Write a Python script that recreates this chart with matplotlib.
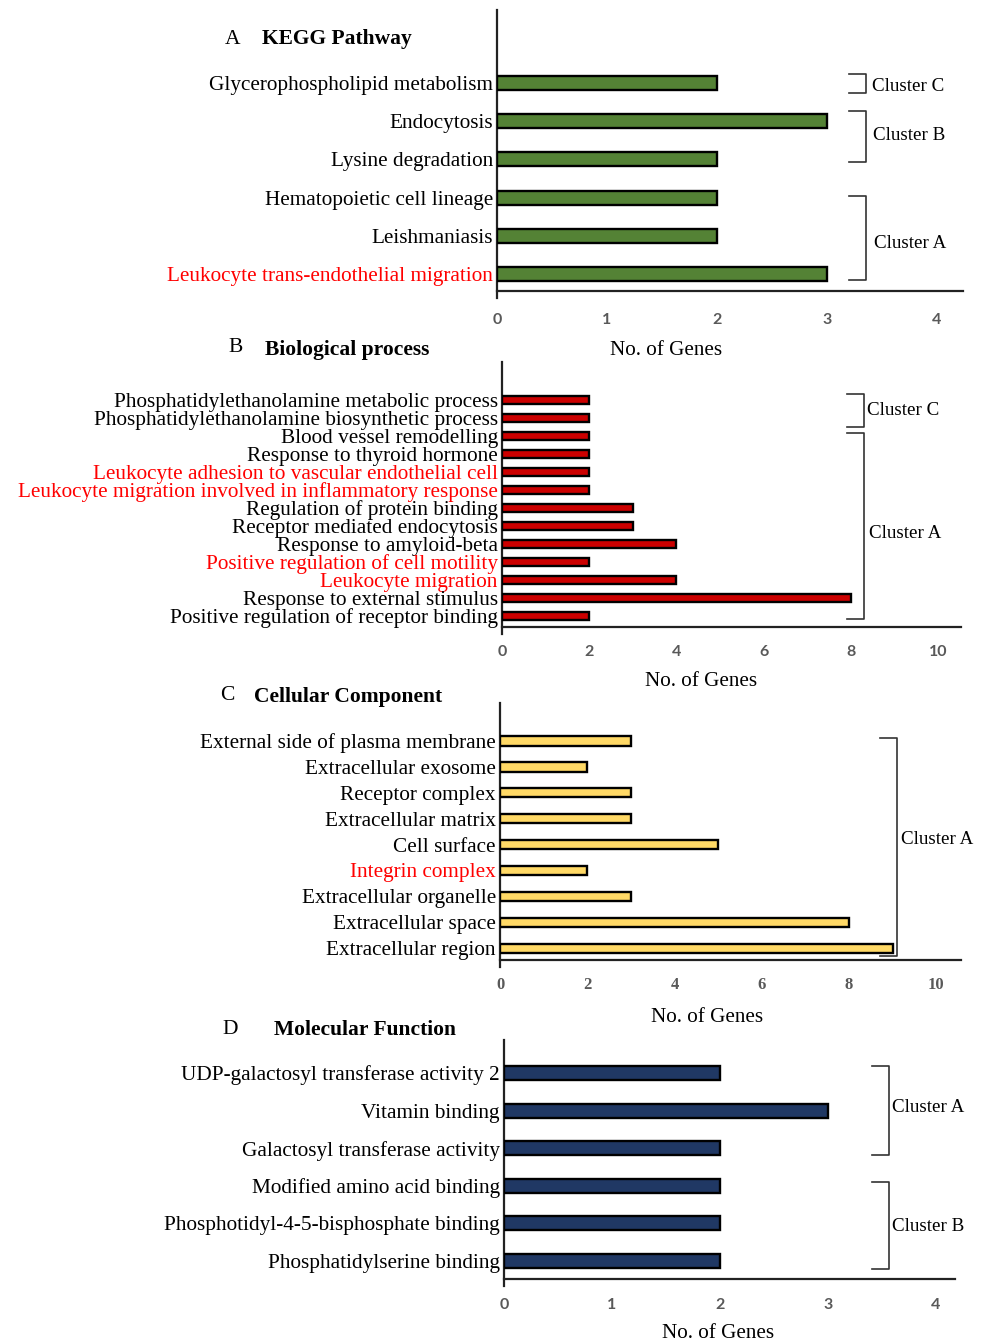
import numpy as np
import matplotlib
matplotlib.use('Agg')
from matplotlib import pyplot as plt

W, H = 984, 1342

# A: KEGG pathway
kegg_terms = ["Glycerophospholipid metabolism", "Endocytosis", "Lysine degradation",
              "Hematopoietic cell lineage", "Leishmaniasis",
              "Leukocyte trans-endothelial migration"]
kegg_genes = [2, 3, 2, 2, 2, 3]
kegg_red = ["Leukocyte trans-endothelial migration"]

# B: biological process
bp_terms = ["Phosphatidylethanolamine metabolic process",
            "Phosphatidylethanolamine biosynthetic process",
            "Blood vessel remodelling", "Response to thyroid hormone",
            "Leukocyte adhesion to vascular endothelial cell",
            "Leukocyte migration involved in inflammatory response",
            "Regulation of protein binding", "Receptor mediated endocytosis",
            "Response to amyloid-beta", "Positive regulation of cell motility",
            "Leukocyte migration", "Response to external stimulus",
            "Positive regulation of receptor binding"]
bp_genes = [2, 2, 2, 2, 2, 2, 3, 3, 4, 2, 4, 8, 2]
bp_red = ["Leukocyte adhesion to vascular endothelial cell",
          "Leukocyte migration involved in inflammatory response",
          "Positive regulation of cell motility", "Leukocyte migration"]

# C: cellular component
cc_terms = ["External side of plasma membrane", "Extracellular exosome",
            "Receptor complex", "Extracellular matrix", "Cell surface",
            "Integrin complex", "Extracellular organelle", "Extracellular space",
            "Extracellular region"]
cc_genes = [3, 2, 3, 3, 5, 2, 3, 8, 9]
cc_red = ["Integrin complex"]

# D: molecular function
mf_terms = ["UDP-galactosyl transferase activity 2", "Vitamin binding",
            "Galactosyl transferase activity", "Modified amino acid binding",
            "Phosphotidyl-4-5-bisphosphate binding", "Phosphatidylserine binding"]
mf_genes = [2, 3, 2, 2, 2, 2]
mf_red = []

SERIF = "Liberation Serif"
SANS = "Lato"
TICK_GREY = "#595959"

fig = plt.figure(figsize=(W / 100, H / 100), dpi=100)


def ftext(x, y, s, **kw):
    fig.text(x / W, 1 - y / H, s, **kw)


def panel(terms, genes, red, color, x0, x1, xmax, ytop, yaxis, ybar0, step,
          bar_h, ticks, tick_pad, serif_ticks=False, fs=15.3):
    ext = 7
    ax = fig.add_axes([x0 / W, 1 - (yaxis + ext) / H, (x1 - x0) / W,
                       (yaxis + ext - ytop) / H])
    pos = np.arange(len(terms))
    ax.barh(pos, genes, height=bar_h, color=color, edgecolor="black",
            linewidth=1.7, zorder=3)
    ax.set_xlim(0, xmax)
    ax.set_ylim((yaxis + ext - ybar0) / step, -(ybar0 - ytop) / step)
    ax.spines["bottom"].set_position(("data", (yaxis - ybar0) / step))
    for s in ["top", "right"]:
        ax.spines[s].set_visible(False)
    for s in ["left", "bottom"]:
        ax.spines[s].set_linewidth(1.6)
        ax.spines[s].set_color("#222222")
    ax.set_yticks(pos)
    ax.set_yticklabels(terms, fontfamily=SERIF, fontsize=fs)
    for lab in ax.get_yticklabels():
        if lab.get_text() in red:
            lab.set_color("#ff0000")
    ax.set_xticks(ticks)
    if serif_ticks:
        ax.set_xticklabels([str(t) for t in ticks], fontfamily=SERIF,
                           fontweight="bold", fontsize=12, color=TICK_GREY)
    else:
        ax.set_xticklabels([str(t) for t in ticks], fontfamily=SANS,
                           fontweight="bold", fontsize=11.5, color=TICK_GREY)
    ax.tick_params(axis="x", length=0, pad=tick_pad)
    ax.tick_params(axis="y", length=0, pad=3)
    ax.patch.set_visible(False)
    return ax


def bracket(ax, xa, xb, y0, y1, label, ty, tx):
    ax.plot([xa, xb, xb, xa], [y0, y0, y1, y1], color="#333333", lw=1.2,
            clip_on=False, zorder=4)
    ax.text(tx, ty, label, fontfamily=SERIF, fontsize=13.7, va="center",
            ha="left", clip_on=False)


# panel A
axA = panel(kegg_terms, kegg_genes, kegg_red, "#548235", 497, 963, 4.24, 10, 291,
            83, 38.2, 0.37, [0, 1, 2, 3, 4], 16)
bracket(axA, 3.2, 3.355, -0.24, 0.26, "Cluster C", 0.08, 3.41)
bracket(axA, 3.2, 3.355, 0.74, 2.08, "Cluster B", 1.38, 3.42)
bracket(axA, 3.2, 3.355, 2.95, 5.16, "Cluster A", 4.2, 3.43)
ftext(225, 39, "A", fontfamily=SERIF, fontsize=15.5, va="center")
ftext(262, 39, "KEGG Pathway", fontfamily=SERIF, fontsize=15.5,
      fontweight="bold", va="center")
ftext(666, 351, "No. of Genes", fontfamily=SERIF, fontsize=15.2,
      ha="center", va="center")

# panel B
axB = panel(bp_terms, bp_genes, bp_red, "#cc0000", 502, 961, 10.53, 362, 627,
            400, 18.0, 0.42, [0, 2, 4, 6, 8, 10], 13)
bracket(axB, 7.91, 8.30, -0.33, 1.5, "Cluster C", 0.6, 8.37)
bracket(axB, 7.91, 8.30, 1.83, 12.17, "Cluster A", 7.4, 8.42)
ftext(228, 348, "B", fontfamily=SERIF, fontsize=15.5, va="center")
ftext(265, 350, "Biological process", fontfamily=SERIF, fontsize=15.5,
      fontweight="bold", va="center")
ftext(701, 681, "No. of Genes", fontfamily=SERIF, fontsize=15.2,
      ha="center", va="center")

# panel C
axC = panel(cc_terms, cc_genes, cc_red, "#ffd966", 500, 961, 10.57, 703, 960,
            741, 25.9, 0.36, [0, 2, 4, 6, 8, 10], 12, serif_ticks=True)
bracket(axC, 8.72, 9.11, -0.12, 8.3, "Cluster A", 3.8, 9.2)
ftext(220, 696, "C", fontfamily=SERIF, fontsize=15.5, va="center")
ftext(254, 697, "Cellular Component", fontfamily=SERIF, fontsize=15.5,
      fontweight="bold", va="center")
ftext(707, 1018, "No. of Genes", fontfamily=SERIF, fontsize=15.2,
      ha="center", va="center")

# panel D
axD = panel(mf_terms, mf_genes, mf_red, "#203864", 504, 955, 4.18, 1040, 1279,
            1073, 37.6, 0.37, [0, 1, 2, 3, 4], 14)
bracket(axD, 3.41, 3.57, -0.19, 2.18, "Cluster A", 0.92, 3.6)
bracket(axD, 3.41, 3.57, 2.9, 5.21, "Cluster B", 4.08, 3.6)
ftext(222, 1029, "D", fontfamily=SERIF, fontsize=15.5, va="center")
ftext(274, 1030, "Molecular Function", fontfamily=SERIF, fontsize=15.5,
      fontweight="bold", va="center")
ftext(718, 1333, "No. of Genes", fontfamily=SERIF, fontsize=15.2,
      ha="center", va="center")

fig.savefig("out.png", dpi=100)
